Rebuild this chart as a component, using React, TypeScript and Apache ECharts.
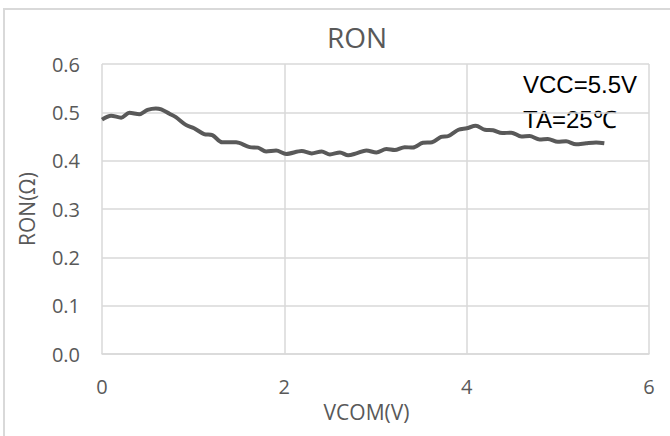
import React, { useEffect, useRef } from "react";
import * as echarts from "echarts";

const TITLE = "RON";
const X_NAME = "VCOM(V)";
const Y_NAME = "RON(Ω)";
const NOTES = ["VCC=5.5V", "TA=25℃"];

const vcom = [
  0.0, 0.1, 0.21, 0.3, 0.41, 0.5, 0.59, 0.65, 0.74, 0.81, 0.92, 1.01, 1.12, 1.21,
  1.32, 1.47, 1.62, 1.71, 1.8, 1.91, 2.02, 2.19, 2.3, 2.41, 2.5, 2.61, 2.7, 2.79,
  2.9, 3.01, 3.12, 3.21, 3.32, 3.41, 3.52, 3.62, 3.72, 3.8, 3.91, 4.0, 4.1, 4.2,
  4.29, 4.39, 4.49, 4.6, 4.69, 4.8, 4.89, 5.0, 5.09, 5.2, 5.31, 5.42, 5.51,
];
const ron = [
  0.485, 0.493, 0.489, 0.499, 0.496, 0.505, 0.508, 0.506, 0.497, 0.49, 0.474,
  0.467, 0.455, 0.453, 0.438, 0.438, 0.428, 0.427, 0.419, 0.421, 0.414, 0.42,
  0.415, 0.419, 0.413, 0.417, 0.411, 0.415, 0.421, 0.417, 0.424, 0.422, 0.428,
  0.427, 0.437, 0.438, 0.449, 0.451, 0.464, 0.467, 0.472, 0.464, 0.463, 0.457,
  0.458, 0.45, 0.451, 0.444, 0.445, 0.439, 0.44, 0.434, 0.436, 0.4375, 0.436,
];

const X_MIN = 0, X_MAX = 6, X_STEP = 2;
const Y_MIN = 0, Y_MAX = 0.6, Y_STEP = 0.1;

export default function App() {
  const ref = useRef<HTMLDivElement>(null);
  useEffect(() => {
    if (!ref.current) return;
    const chart = echarts.init(ref.current, null, { renderer: "svg" });
    const grey = "#595959";
    const gridC = "#d9d9d9";
    chart.setOption({
      animation: false,
      backgroundColor: "#ffffff",
      title: {
        text: TITLE,
        left: 357,
        top: 23,
        textAlign: "center",
        padding: 0,
        textStyle: { fontFamily: "Open Sans", fontSize: 28, fontWeight: "normal", color: grey },
      },
      grid: { left: 102, right: 21, top: 64, bottom: 82, containLabel: false },
      xAxis: {
        type: "value",
        min: X_MIN,
        max: X_MAX,
        interval: X_STEP,
        name: X_NAME,
        nameLocation: "middle",
        nameGap: 47,
        nameTextStyle: { fontFamily: "Open Sans", fontSize: 21, color: grey, padding: [0, 18, 0, 0] },
        axisLine: { show: true, lineStyle: { color: gridC, width: 1.5 } },
        axisTick: { show: false },
        axisLabel: { fontFamily: "Open Sans", fontSize: 20, color: grey, margin: 22 },
        splitLine: { show: true, lineStyle: { color: gridC, width: 1.5 } },
      },
      yAxis: {
        type: "value",
        min: Y_MIN,
        max: Y_MAX,
        interval: Y_STEP,
        name: Y_NAME,
        nameLocation: "middle",
        nameGap: 65,
        nameTextStyle: { fontFamily: "Open Sans", fontSize: 21, color: grey },
        axisLine: { show: false },
        axisTick: { show: false },
        axisLabel: {
          fontFamily: "Open Sans",
          fontSize: 20,
          color: grey,
          margin: 22,
          formatter: (v: number) => v.toFixed(1),
        },
        splitLine: { show: true, lineStyle: { color: gridC, width: 1.5 } },
      },
      series: [
        {
          type: "line",
          data: vcom.map((x, i) => [x, ron[i]]),
          smooth: 0.3,
          showSymbol: false,
          lineStyle: { color: grey, width: 4 },
        },
      ],
      graphic: [
        {
          type: "rect",
          shape: { x: 4, y: 9, width: 720, height: 480 },
          style: { fill: "none", stroke: "#d9d9d9", lineWidth: 2 },
          silent: true,
        },
        {
          type: "text",
          x: 523,
          y: 84,
          style: { text: NOTES[0], font: "24px 'Liberation Sans'", fill: "#000", verticalAlign: "middle" },
        },
        {
          type: "text",
          x: 523,
          y: 119,
          style: { text: NOTES[1], font: "24px 'Liberation Sans'", fill: "#000", verticalAlign: "middle" },
        },
      ],
    });
    return () => chart.dispose();
  }, []);
  return (
    <div
      ref={ref}
      style={{ position: "fixed", left: 0, top: 0, width: 670, height: 436, background: "#fff" }}
    />
  );
}
